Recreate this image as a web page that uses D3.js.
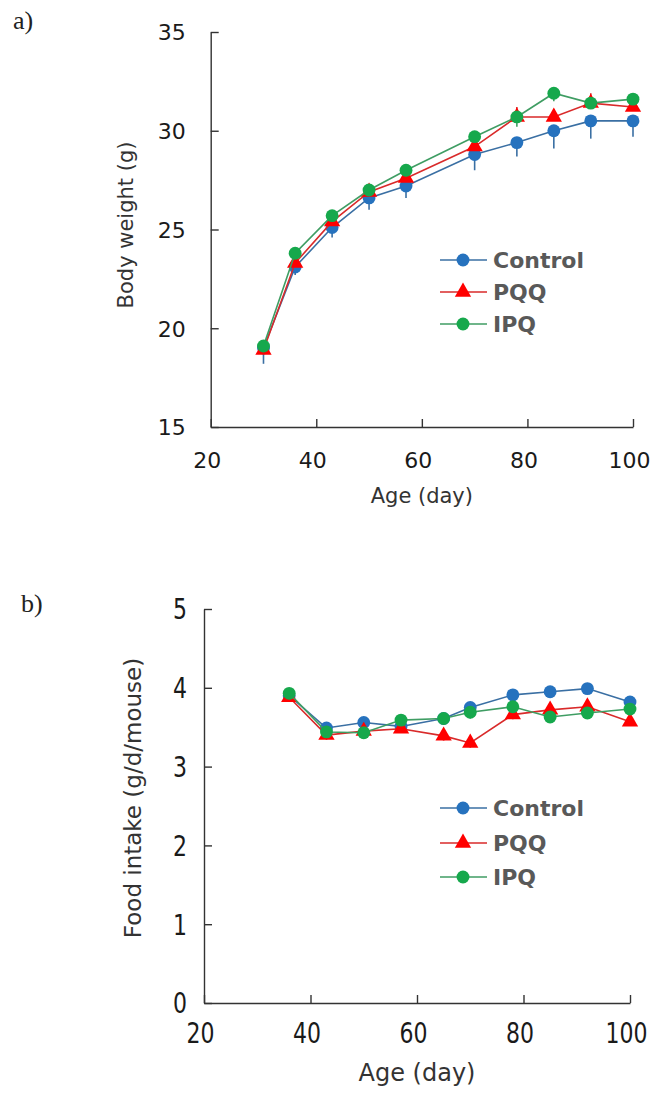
<!DOCTYPE html>
<html>
<head>
    <title>Body weight and food intake</title>
    <meta charset="utf-8">
    <style>
        body { margin: 0; background: #fff; }
        svg { display: block; }
        .axis path, .axis line { stroke: #333; stroke-width: 1.4px; }
        .axis text { font-family: "DejaVu Sans", sans-serif; fill: #1a1a1a; }
        .title { font-family: "DejaVu Sans", sans-serif; fill: #333; }
        .panel { font-family: "Liberation Serif", "DejaVu Serif", serif; font-size: 26px; fill: #222; }
        .legend text { font-family: "DejaVu Sans", sans-serif; font-weight: bold; font-size: 22px; fill: #595959; }
    </style>
    <script src="https://cdn.jsdelivr.net/npm/d3@7"></script>
</head>
<body>
    <svg width="654" height="1093"></svg>
    <script>
        // a) body weight
        var weightAge = [30, 36, 43, 50, 57, 70, 78, 85, 92, 100];
        var weightControl = [19.0, 23.1, 25.1, 26.6, 27.2, 28.8, 29.4, 30.0, 30.5, 30.5];
        var weightPQQ = [18.9, 23.3, 25.4, 26.9, 27.6, 29.2, 30.7, 30.7, 31.4, 31.2];
        var weightIPQ = [19.1, 23.8, 25.7, 27.0, 28.0, 29.7, 30.7, 31.9, 31.4, 31.6];
        var weightControlErr = [0.8, 0.4, 0.5, 0.6, 0.6, 0.8, 0.7, 0.9, 0.9, 0.8];
        var weightPQQErr = [0.3, 0.3, 0.3, 0.3, 0.3, 0.4, 0.5, 0.4, 0.5, 0.3];
        var weightIPQErr = [0.3, 0.2, 0.3, 0.3, 0.3, 0.3, 0.5, 0.4, 0.3, 0.3];

        // b) food intake
        var foodAge = [36, 43, 50, 57, 65, 70, 78, 85, 92, 100];
        var foodControl = [3.90, 3.49, 3.56, 3.51, 3.61, 3.75, 3.91, 3.95, 3.99, 3.82];
        var foodPQQ = [3.88, 3.40, 3.45, 3.48, 3.39, 3.30, 3.66, 3.72, 3.76, 3.57];
        var foodIPQ = [3.93, 3.44, 3.43, 3.59, 3.61, 3.69, 3.76, 3.63, 3.68, 3.73];
        var foodControlErr = [0.05, 0.05, 0.04, 0.05, 0.05, 0.06, 0.05, 0.05, 0.07, 0.05];
        var foodPQQErr = [0.06, 0.06, 0.05, 0.05, 0.06, 0.06, 0.06, 0.05, 0.06, 0.05];
        var foodIPQErr = [0.06, 0.07, 0.07, 0.06, 0.08, 0.08, 0.06, 0.07, 0.07, 0.06];

        var ageTicks = [20, 40, 60, 80, 100];
        var weightTicks = [15, 20, 25, 30, 35];
        var foodTicks = [0, 1, 2, 3, 4, 5];
        var seriesNames = ["Control", "PQQ", "IPQ"];

        var styles = {
            Control: { line: "#3a6fa3", fill: "#2672be", shape: d3.symbolCircle, size: 130 },
            PQQ: { line: "#d92a2a", fill: "#ff0000", shape: d3.symbolTriangle, size: 115 },
            IPQ: { line: "#3f9d63", fill: "#16a84c", shape: d3.symbolCircle, size: 130 }
        };

        var svg = d3.select("svg");

        function drawPanel(opt)
        {
            var g = svg.append("g");
            var x = d3.scaleLinear().domain([20, 100]).range(opt.xRange);
            var y = d3.scaleLinear().domain(opt.yDomain).range(opt.yRange);

            var yAxis = g.append("g")
                .attr("class", "axis")
                .attr("transform", "translate(" + opt.xRange[0] + ",0)")
                .call(d3.axisLeft(y).tickValues(opt.yTicks).tickFormat(d3.format("d"))
                    .tickSizeInner(-8).tickSizeOuter(0).tickPadding(opt.yPad));
            yAxis.selectAll("text").attr("font-size", opt.tickFont)
                .attr("transform", "scale(1," + opt.stretch + ")")
                .attr("dy", "0.36em");

            var xAxis = g.append("g")
                .attr("class", "axis")
                .attr("transform", "translate(0," + opt.yRange[0] + ")")
                .call(d3.axisBottom(x).tickValues(ageTicks).tickFormat(d3.format("d"))
                    .tickSizeInner(-8).tickSizeOuter(0).tickPadding(0));
            xAxis.selectAll("text").attr("font-size", opt.tickFont)
                .attr("dy", 0).attr("dx", -4)
                .attr("y", opt.xLabelOffset / opt.stretch)
                .attr("transform", "scale(1," + opt.stretch + ")");

            g.append("text").attr("class", "title")
                .attr("font-size", opt.titleFont)
                .attr("text-anchor", "middle")
                .attr("x", d3.mean(opt.xRange)).attr("y", opt.xTitleY)
                .text("Age (day)");

            g.append("text").attr("class", "title")
                .attr("font-size", opt.yTitleFont)
                .attr("text-anchor", "middle")
                .attr("transform", "translate(" + opt.yTitleX + "," + opt.yTitleCY + ") rotate(-90)")
                .text(opt.yTitle);

            g.append("text").attr("class", "panel")
                .attr("x", opt.panelPos[0]).attr("y", opt.panelPos[1])
                .text(opt.panel);

            var line = d3.line()
                .x(function (d) { return x(d.age); })
                .y(function (d) { return y(d.value); });

            seriesNames.forEach(function (name)
            {
                var s = styles[name];
                var pts = opt.ages.map(function (a, i)
                {
                    return { age: a, value: opt.values[name][i], err: opt.errors[name][i] };
                });
                var dir = opt.errDir[name];

                g.append("g").selectAll("line")
                    .data(pts)
                    .enter().append("line")
                    .attr("x1", function (d) { return x(d.age); })
                    .attr("x2", function (d) { return x(d.age); })
                    .attr("y1", function (d) { return y(d.value); })
                    .attr("y2", function (d) { return y(d.value + dir * d.err); })
                    .attr("stroke", s.line)
                    .attr("stroke-width", 1.6);

                g.append("path")
                    .datum(pts)
                    .attr("fill", "none")
                    .attr("stroke", s.line)
                    .attr("stroke-width", 1.6)
                    .attr("d", line);

                g.append("g").selectAll("path")
                    .data(pts)
                    .enter().append("path")
                    .attr("transform", function (d) { return "translate(" + x(d.age) + "," + y(d.value) + ")"; })
                    .attr("d", d3.symbol().type(s.shape).size(s.size))
                    .attr("fill", s.fill);
            });

            // legend
            var legend = g.append("g").attr("class", "legend");
            seriesNames.forEach(function (name, i)
            {
                var s = styles[name];
                var ly = opt.legendY[i];
                legend.append("line")
                    .attr("x1", 440).attr("x2", 487)
                    .attr("y1", ly).attr("y2", ly)
                    .attr("stroke", s.line).attr("stroke-width", 1.6);
                legend.append("path")
                    .attr("transform", "translate(463," + ly + ")")
                    .attr("d", d3.symbol().type(s.shape).size(s.size))
                    .attr("fill", s.fill);
                legend.append("text")
                    .attr("x", 493).attr("y", ly).attr("dy", "0.36em")
                    .text(name);
            });
        }

        drawPanel({
            panel: "a)", panelPos: [13, 29],
            xRange: [210.7, 633], yRange: [427, 32], yDomain: [15, 35], yTicks: weightTicks,
            yPad: 25, tickFont: 22, stretch: 1, xLabelOffset: 41,
            titleFont: 21, xTitleY: 503, yTitle: "Body weight (g)", yTitleFont: 21, yTitleX: 133, yTitleCY: 225,
            ages: weightAge,
            values: { Control: weightControl, PQQ: weightPQQ, IPQ: weightIPQ },
            errors: { Control: weightControlErr, PQQ: weightPQQErr, IPQ: weightIPQErr },
            errDir: { Control: -1, PQQ: 1, IPQ: -1 },
            legendY: [260, 292, 324]
        });

        drawPanel({
            panel: "b)", panelPos: [21, 612],
            xRange: [204, 630], yRange: [1003, 609], yDomain: [0, 5], yTicks: foodTicks,
            yPad: 17, tickFont: 22, stretch: 1.25, xLabelOffset: 40,
            titleFont: 24, xTitleY: 1081, yTitle: "Food intake (g/d/mouse)", yTitleFont: 23, yTitleX: 141, yTitleCY: 798,
            ages: foodAge,
            values: { Control: foodControl, PQQ: foodPQQ, IPQ: foodIPQ },
            errors: { Control: foodControlErr, PQQ: foodPQQErr, IPQ: foodIPQErr },
            errDir: { Control: 1, PQQ: -1, IPQ: -1 },
            legendY: [808, 843, 877]
        });
    </script>
</body>
</html>
